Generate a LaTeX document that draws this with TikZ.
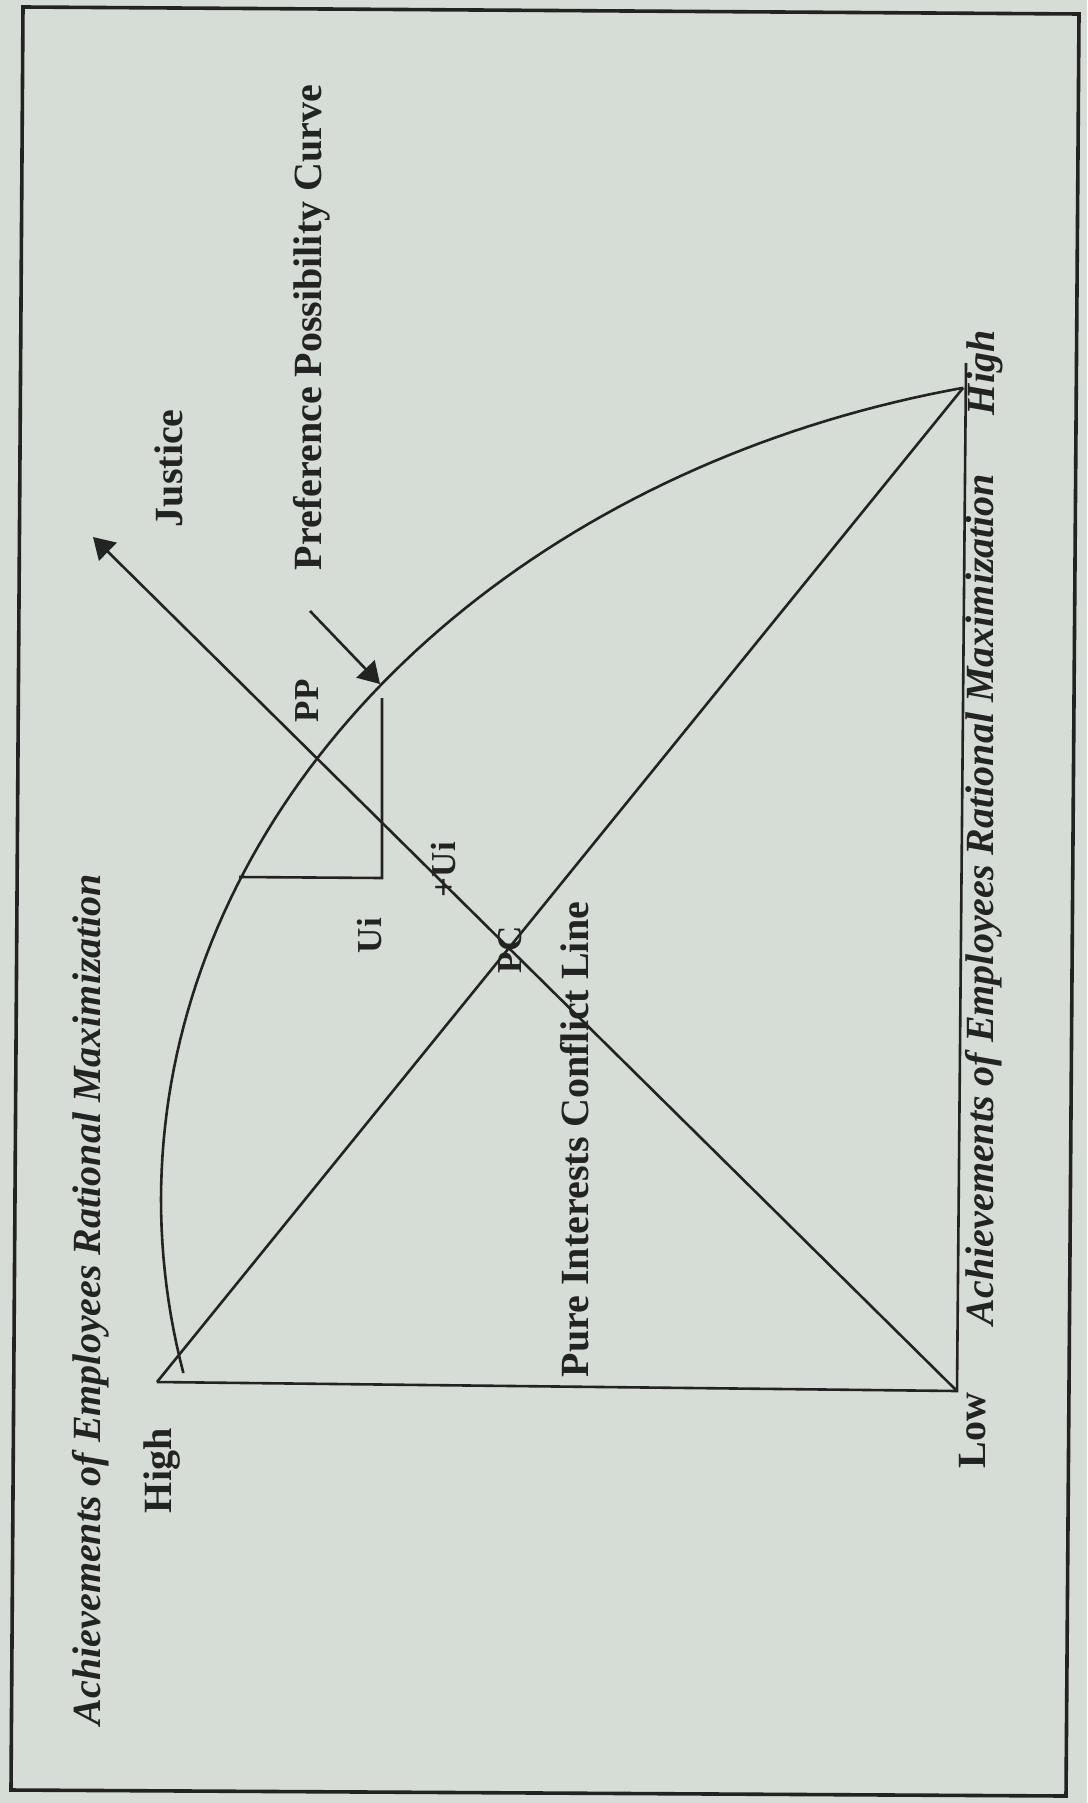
\documentclass[tikz,border=0pt]{standalone}
\usepackage{fontspec}
\setmainfont{Liberation Serif}
\usetikzlibrary{arrows.meta}
\definecolor{paper}{HTML}{D5DDD6}
\definecolor{ink}{HTML}{232323}
\tikzset{every node/.style={font=\fontsize{20}{24}\selectfont\bfseries,text=ink},
  lbl/.style={inner sep=0pt,outer sep=0pt,rotate=90,anchor=base west},
  smlbl/.style={lbl,font=\fontsize{17.5}{21}\selectfont\bfseries},
  axlbl/.style={lbl,font=\fontsize{20}{24}\selectfont\bfseries\itshape}}
\newcommand{\vlab}[4]{\node[lbl] (#1) at (#2,#3) {#4};}
\newcommand{\slab}[4]{\node[smlbl] (#1) at (#2,#3) {#4};}

\begin{document}
\begin{tikzpicture}[x=0.5pt,y=-0.5pt,
    line/.style={draw=ink,line width=1.3pt},
    frame/.style={draw=ink,line width=1.8pt},
    arr/.style={line,-{Triangle[length=10.5pt,width=12.5pt]}}]
  \fill[paper] (0,0) rectangle (1087,1803);
  \path[use as bounding box] (0,0) rectangle (1087,1803);
  \draw[frame] (23,7) -- (1079,14) -- (1066,1796) -- (11,1790) -- cycle;

  % corners of the diagram
  \coordinate (hiL) at (157,1382);
  \coordinate (low) at (957,1391);
  \coordinate (hiR) at (963,388);
  \coordinate (axTop) at (966,363);
  \coordinate (jTip) at (93,537);

  % axes, conflict line and justice
  \draw[line] (hiL) -- (low) -- (axTop);
  \draw[line] (hiL) -- (hiR);
  \draw[arr] (low) -- (jTip);

  % preference possibility curve
  \draw[line] plot[domain=168:257.5,samples=90]
    ({1185+1024*cos(\x)},{1200+832*sin(\x)});

  % Ui step and pointer to the curve
  \coordinate (uiA) at (239,877);
  \coordinate (uiC) at (382,878);
  \coordinate (uiB) at (382,698);
  \draw[line] (uiA) -- (uiC) -- (uiB);
  \coordinate (ppcS) at (310,611);
  \coordinate (ppcT) at (380,684);
  \draw[arr] (ppcS) -- (ppcT);

  % labels
  \node[axlbl] (axL) at (100,1725) {Achievements of Employees Rational Maximization};
  \node[axlbl] (axR) at (993,1325) {Achievements of Employees Rational Maximization};
  \node[axlbl] (hiRlbl) at (994,415) {High};
  \vlab{hiLlbl}{171}{1513}{High}
  \vlab{lowlbl}{985}{1468}{Low}
  \vlab{justice}{182}{527}{Justice}
  \vlab{ppc}{321}{570}{Preference Possibility Curve}
  \vlab{pure}{588}{1377}{Pure Interests Conflict Line}
  \slab{pp}{318}{722}{PP}
  \slab{ui}{381}{953}{Ui}
  \slab{dui}{455}{897}{+Ui}
  \slab{pc}{521}{973}{PC}
\end{tikzpicture}
\end{document}
